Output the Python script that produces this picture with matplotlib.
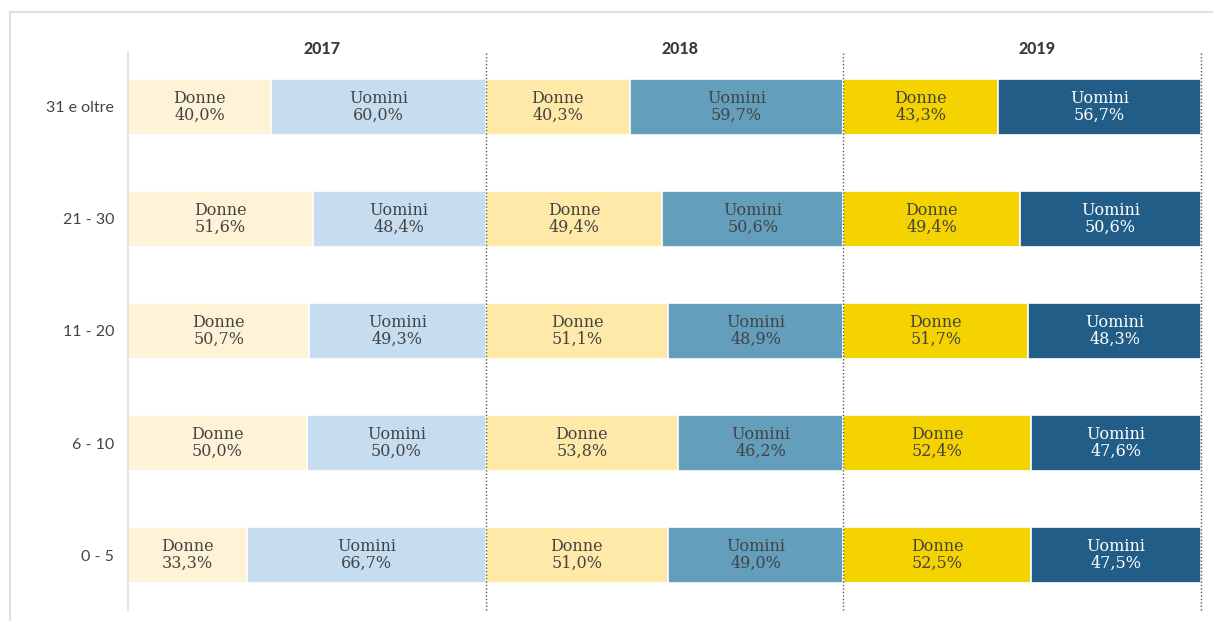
import matplotlib
matplotlib.use("Agg")
import matplotlib.pyplot as plt
from matplotlib.lines import Line2D

categories = ["31 e oltre", "21 - 30", "11 - 20", "6 - 10", "0 - 5"]
years = ["2017", "2018", "2019"]
donne = {
    "2017": [40.0, 51.6, 50.7, 50.0, 33.3],
    "2018": [40.3, 49.4, 51.1, 53.8, 51.0],
    "2019": [43.3, 49.4, 51.7, 52.4, 52.5],
}
uomini = {
    "2017": [60.0, 48.4, 49.3, 50.0, 66.7],
    "2018": [59.7, 50.6, 48.9, 46.2, 49.0],
    "2019": [56.7, 50.6, 48.3, 47.6, 47.5],
}
col_donne = {"2017": "#FEF3D6", "2018": "#FEE9A8", "2019": "#F5D300"}
col_uomini = {"2017": "#C6DDF0", "2018": "#639EBC", "2019": "#225D87"}
txt_uomini = {"2017": "#444444", "2018": "#444444", "2019": "#FFFFFF"}

W, H = 1213, 621
fig = plt.figure(figsize=(W / 100, H / 100), dpi=100)
ax = fig.add_axes([128 / W, 1 - 610 / H, (1201 - 128) / W, (610 - 52) / H])

serif = ["DejaVu Serif"]
ypos = list(range(len(categories)))
for i, yr in enumerate(years):
    off = i * 100
    d = donne[yr]
    u = uomini[yr]
    ax.barh(ypos, d, left=off, height=0.5, color=col_donne[yr], edgecolor="white", linewidth=1.2)
    ax.barh(ypos, u, left=[off + v for v in d], height=0.5, color=col_uomini[yr], edgecolor="white", linewidth=1.2)
    for j in ypos:
        xd = off + d[j] / 2
        xu = off + d[j] + u[j] / 2
        ax.text(xd, j, "Donne\n" + f"{d[j]:.1f}%".replace(".", ","), ha="center", va="center",
                fontsize=11.5, color="#444444", family=serif, linespacing=1.0)
        ax.text(xu, j, "Uomini\n" + f"{u[j]:.1f}%".replace(".", ","), ha="center", va="center",
                fontsize=11.5, color=txt_uomini[yr], family=serif, linespacing=1.0)
    ax.text(off + 54.2, 1.0 + 3 / (610 - 52), yr, transform=ax.get_xaxis_transform(),
            ha="center", va="center", fontsize=11.5, fontweight="black", color="#3A3A3A",
            family=["Lato", "DejaVu Sans"])
    # dotted separator at right edge of each panel
    ax.axvline(off + 100, color="#555555", linestyle=(0, (1, 1.5)), linewidth=1.0, clip_on=False)

ax.set_xlim(0, 300)
ax.set_ylim(4.49, -0.49)
ax.set_yticks(ypos)
ax.set_yticklabels(categories, fontsize=11.5, color="#444444", family=["Lato", "DejaVu Sans"])
ax.tick_params(axis="y", length=0, pad=10)
ax.set_xticks([])
for s in ["top", "right", "bottom"]:
    ax.spines[s].set_visible(False)
ax.spines["left"].set_color("#DDDDDD")
ax.spines["left"].set_linewidth(1.2)

# outer frame
fig.add_artist(Line2D([10 / W, 1.0], [1 - 12 / H, 1 - 12 / H], color="#E2E2E2", linewidth=1.5))
fig.add_artist(Line2D([10 / W, 10 / W], [0, 1 - 12 / H], color="#E2E2E2", linewidth=1.5))

fig.savefig("out.png", dpi=100, facecolor="white")
